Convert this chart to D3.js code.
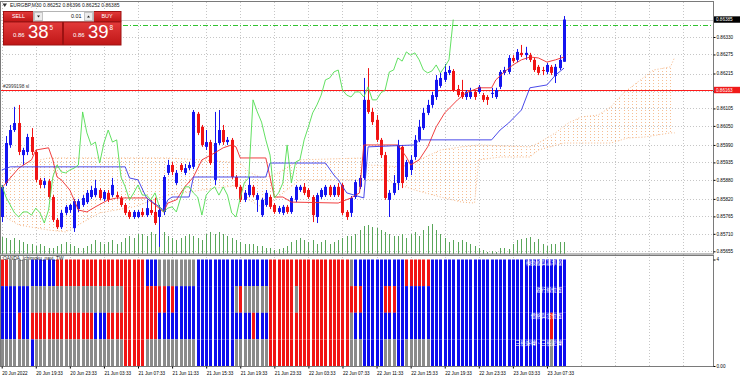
<!DOCTYPE html>
<html>
<head>
<meta charset="utf-8">
<script src="https://cdn.jsdelivr.net/npm/d3@7"></script>
<style>
body { margin: 0; background: #fff; }
svg { display: block; }
</style>
</head>
<body>
<div id="chart"></div>
<script>
// EURGBP M30 bars
const open = [0.85763,0.85870,0.85990,0.86037,0.86059,0.85958,0.85968,0.86015,0.85968,0.85880,
  0.85864,0.85876,0.85826,0.85754,0.85731,0.85776,0.85785,0.85728,0.85788,0.85801,
  0.85810,0.85826,0.85832,0.85848,0.85820,0.85839,0.85832,0.85832,0.85823,0.85801,
  0.85779,0.85763,0.85763,0.85779,0.85769,0.85785,0.85779,0.85763,0.85779,0.85902,
  0.85927,0.85870,0.85927,0.85902,0.85917,0.85921,0.86088,0.86047,0.85984,0.85999,
  0.85880,0.85996,0.86037,0.85999,0.86006,0.85889,0.85858,0.85817,0.85832,0.85858,
  0.85817,0.85769,0.85801,0.85826,0.85801,0.85779,0.85776,0.85795,0.85779,0.85817,
  0.85848,0.85858,0.85848,0.85826,0.85763,0.85826,0.85832,0.85858,0.85832,0.85858,
  0.85864,0.85779,0.85776,0.85826,0.85858,0.85886,0.86132,0.86094,0.86069,0.86006,
  0.85958,0.85817,0.85839,0.85870,0.85984,0.85889,0.85911,0.85952,0.86006,0.86043,
  0.86091,0.86116,0.86141,0.86176,0.86195,0.86217,0.86223,0.86166,0.86157,0.86141,
  0.86141,0.86157,0.86157,0.86147,0.86141,0.86151,0.86141,0.86173,0.86217,0.86220,
  0.86264,0.86258,0.86280,0.86273,0.86273,0.86258,0.86236,0.86226,0.86220,0.86236,
  0.86207,0.86232,0.86252];
const high = [0.85864,0.86018,0.86053,0.86110,0.86116,0.85981,0.86025,0.86043,0.85974,0.85886,
  0.85886,0.85883,0.85832,0.85760,0.85785,0.85801,0.85804,0.85820,0.85820,0.85832,
  0.85848,0.85861,0.85880,0.85854,0.85848,0.85848,0.85886,0.85842,0.85829,0.85807,
  0.85785,0.85785,0.85785,0.85791,0.85817,0.85817,0.85823,0.85801,0.85895,0.85943,
  0.85936,0.85911,0.85933,0.85930,0.85936,0.86100,0.86094,0.86053,0.86037,0.86006,
  0.86094,0.86100,0.86053,0.86015,0.86012,0.85895,0.85864,0.85848,0.85889,0.85864,
  0.85839,0.85823,0.85848,0.85832,0.85807,0.85798,0.85801,0.85801,0.85829,0.85864,
  0.85864,0.85870,0.85854,0.85832,0.85839,0.85854,0.85864,0.85864,0.85864,0.85870,
  0.85870,0.85785,0.85829,0.85880,0.85895,0.86201,0.86232,0.86107,0.86084,0.86012,
  0.85968,0.85848,0.85895,0.86006,0.85990,0.85943,0.85958,0.86021,0.86069,0.86107,
  0.86132,0.86157,0.86210,0.86217,0.86245,0.86239,0.86229,0.86179,0.86195,0.86163,
  0.86170,0.86163,0.86179,0.86154,0.86147,0.86170,0.86170,0.86226,0.86236,0.86273,
  0.86273,0.86292,0.86305,0.86299,0.86280,0.86264,0.86242,0.86236,0.86248,0.86242,
  0.86245,0.86273,0.86396];
const low = [0.85747,0.85861,0.85981,0.86031,0.85958,0.85927,0.85958,0.85958,0.85873,0.85854,
  0.85854,0.85820,0.85747,0.85725,0.85725,0.85769,0.85776,0.85716,0.85779,0.85795,
  0.85804,0.85820,0.85826,0.85817,0.85813,0.85810,0.85826,0.85820,0.85795,0.85769,
  0.85757,0.85757,0.85760,0.85763,0.85763,0.85769,0.85738,0.85669,0.85769,0.85895,
  0.85895,0.85864,0.85905,0.85895,0.85911,0.85914,0.86021,0.85984,0.85974,0.85927,
  0.85864,0.85990,0.85990,0.85990,0.85883,0.85851,0.85810,0.85810,0.85826,0.85826,
  0.85779,0.85763,0.85795,0.85788,0.85773,0.85773,0.85769,0.85773,0.85773,0.85810,
  0.85842,0.85832,0.85820,0.85747,0.85744,0.85820,0.85826,0.85826,0.85826,0.85826,
  0.85769,0.85754,0.85763,0.85820,0.85851,0.85880,0.86088,0.86053,0.85999,0.85949,
  0.85817,0.85763,0.85832,0.85848,0.85854,0.85880,0.85895,0.85943,0.85999,0.86037,
  0.86084,0.86107,0.86132,0.86170,0.86188,0.86210,0.86157,0.86141,0.86135,0.86132,
  0.86135,0.86132,0.86151,0.86125,0.86116,0.86138,0.86135,0.86166,0.86210,0.86213,
  0.86248,0.86251,0.86267,0.86258,0.86251,0.86220,0.86210,0.86210,0.86213,0.86210,
  0.86185,0.86226,0.86252];
const close = [0.85858,0.85996,0.86037,0.86059,0.85968,0.85974,0.86015,0.85968,0.85880,0.85864,
  0.85876,0.85826,0.85754,0.85731,0.85776,0.85795,0.85801,0.85813,0.85813,0.85823,
  0.85839,0.85848,0.85854,0.85823,0.85842,0.85817,0.85864,0.85826,0.85801,0.85776,
  0.85763,0.85779,0.85779,0.85769,0.85791,0.85776,0.85744,0.85785,0.85889,0.85927,
  0.85905,0.85902,0.85911,0.85917,0.85927,0.86094,0.86028,0.85990,0.85999,0.85933,
  0.85996,0.86037,0.85999,0.86006,0.85889,0.85858,0.85817,0.85839,0.85864,0.85832,
  0.85832,0.85817,0.85839,0.85795,0.85779,0.85791,0.85795,0.85779,0.85823,0.85858,
  0.85858,0.85839,0.85826,0.85769,0.85832,0.85848,0.85858,0.85832,0.85858,0.85832,
  0.85776,0.85763,0.85823,0.85873,0.85886,0.86132,0.86094,0.86062,0.86006,0.85958,
  0.85823,0.85839,0.85870,0.85990,0.85870,0.85936,0.85943,0.86006,0.86047,0.86091,
  0.86116,0.86147,0.86195,0.86201,0.86220,0.86226,0.86163,0.86147,0.86141,0.86157,
  0.86157,0.86141,0.86173,0.86132,0.86132,0.86154,0.86163,0.86220,0.86226,0.86264,
  0.86254,0.86283,0.86273,0.86280,0.86258,0.86226,0.86217,0.86223,0.86242,0.86217,
  0.86236,0.86258,0.86385];
// tick volume
const volume = [680,640,560,640,560,480,400,400,320,400,320,240,240,
  320,400,480,400,320,240,240,320,400,560,480,400,
  480,560,400,480,640,720,640,800,800,720,880,800,960,
  880,720,640,560,640,720,800,720,640,560,800,880,800,
  880,800,720,640,560,480,400,400,
  400,320,320,240,240,160,200,240,
  320,480,560,640,560,480,560,400,
  480,560,400,480,560,640,720,720,800,
  960,1120,1160,1080,1040,960,880,
  800,720,720,800,640,800,880,720,960,1120,1200,
  960,800,640,480,560,480,560,
  480,400,320,240,160,80,120,80,240,
  240,200,400,560,600,640,680,480,600,400,320,400,400,480,480];

// Ichimoku lines: [bar, price]
const tenkan = [[0,0.85854],[2,0.85886],[4,0.85917],[7,0.85943],[8,0.85974],[11,0.85981],[12,0.85943],
  [13,0.85889],[14,0.85880],[16,0.85848],[18,0.85785],[20,0.85779],[22,0.85795],[25,0.85817],[27,0.85823],
  [34,0.85823],[36,0.85801],[38,0.85779],[39,0.85807],[41,0.85817],[43,0.85858],[45,0.85889],[47,0.85943],
  [50,0.85965],[52,0.85981],[54,0.85990],[55,0.85984],[56,0.85949],[62,0.85949],[64,0.85826],[66,0.85826],
  [68,0.85810],[79,0.85807],[82,0.85823],[84,0.85839],[85,0.85990],[93,0.85990],[95,0.85952],[96,0.85927],
  [98,0.85943],[100,0.85984],[102,0.86047],[104,0.86091],[107,0.86132],[109,0.86154],[112,0.86170],
  [115,0.86170],[116,0.86195],[118,0.86220],[120,0.86242],[122,0.86258],[124,0.86267],[126,0.86264],
  [128,0.86251],[130,0.86258],[132,0.86267]];
const kijun = [[0,0.85911],[2,0.85921],[29,0.85921],[30,0.85886],[32,0.85880],[34,0.85823],[37,0.85795],
  [38,0.85785],[39,0.85817],[40,0.85826],[44,0.85826],[45,0.85889],[62,0.85889],[63,0.85933],[76,0.85933],
  [78,0.85895],[79,0.85880],[81,0.85839],[85,0.85823],[86,0.85984],[97,0.85990],[98,0.86006],[115,0.86006],
  [117,0.86037],[119,0.86059],[122,0.86100],[124,0.86170],[128,0.86179],[130,0.86210],[132,0.86232]];
const spanA = [[0,0.85895],[4,0.85927],[11,0.85949],[39,0.85949],[47,0.85943],[56,0.85933],[58,0.85905],
  [61,0.85886],[64,0.85895],[70,0.85943],[85,0.85949],[86,0.85927],[94,0.85921],[98,0.85943],[103,0.85974],
  [108,0.85984],[112,0.85990],[124,0.85984],[126,0.85996],[130,0.86028],[133,0.86059],[136,0.86078],
  [140,0.86084],[143,0.86110],[146,0.86154],[149,0.86185],[153,0.86226],[157,0.86236],[158,0.86267]];
const spanB = [[0,0.85769],[4,0.85738],[11,0.85722],[15,0.85716],[23,0.85776],[31,0.85795],[39,0.85832],
  [47,0.85848],[56,0.85864],[58,0.85817],[61,0.85795],[64,0.85817],[70,0.85880],[90,0.85880],[97,0.85848],
  [103,0.85826],[108,0.85810],[111,0.85807],[112,0.85943],[117,0.85952],[124,0.85952],[126,0.85974],
  [132,0.85996],[143,0.85996],[147,0.86012],[151,0.86015],[157,0.86028],[158,0.86028]];

// OANDA_Ichimoku_navi_TW rows, top to bottom, as runs of [colour, bars]
const navi1 = [["r",2],["g",5],["b",6],["r",21],["b",3],["g",9],["b",17],["r",19],["g",1],["b",12],["r",6],["b",32]];
const navi2 = [["b",7],["g",22],["r",10],["b",1],["r",1],["b",14],["g",1],["r",1],["g",6],["r",6],["g",1],["r",15],["b",5],["r",3],["b",40]];
const navi3 = [["b",4],["r",1],["b",2],["r",15],["b",3],["r",12],["b",22],["r",1],["b",3],["r",19],["g",1],["b",46],["r",1],["b",3]];
const navi4 = [["g",7],["b",1],["g",21],["r",5],["g",12],["b",9],["g",8],["r",19],["g",3],["b",5],["g",3],["b",2],["g",6],["b",28],["g",1],["b",3]];
const naviNames = ["轉換線與基準線", "遲行線位置", "價格與雲位置", "三役好轉、三役逆轉"];

const priceTicks = [0.86330,0.86275,0.86215,0.86160,0.86105,0.86050,0.85990,0.85935,0.85880,0.85820,0.85765,0.85710,0.85655];
const timeTicks = [0,8,16,24,32,40,48,56,64,72,80,88,96,104,112,120,128];
const timeLabels = ["20 Jun 2022","20 Jun 19:33","20 Jun 23:33","21 Jun 03:33","21 Jun 07:33","21 Jun 11:33",
  "21 Jun 15:33","21 Jun 19:33","21 Jun 23:33","22 Jun 03:33","22 Jun 07:33","22 Jun 11:33","22 Jun 15:33",
  "22 Jun 19:33","22 Jun 23:33","23 Jun 03:33","23 Jun 07:33"];
const gridBars = timeTicks.concat([136,144,152,160]);
const slPrice = 0.86163, tpPrice = 0.86369;
const ask = 0.86398;

const FONT = "'Liberation Sans', Arial, sans-serif";
const BULL = "#1414f0", BEAR = "#f01414";
const naviColor = { r: "#f11414", b: "#0c0cee", g: "#8a8a8a" };

const svg = d3.select("#chart").append("svg")
  .attr("width", 740).attr("height", 384)
  .style("font-family", FONT);

svg.append("rect").attr("width", 740).attr("height", 384).attr("fill", "#fff");

// scales
const x = d3.scaleLinear().domain([0, 132]).range([1.7, 564]);
const y = d3.scaleLinear().domain([0.85655, 0.86330]).range([251.3, 37]);
const yVol = d3.scaleLinear().domain([0, 1200]).range([254, 224]);
const yNavi = d3.scaleLinear().domain([0, 4]).range([366, 259.5]);
const px = i => Math.round(x(i));

const defs = svg.append("defs");
defs.append("clipPath").attr("id", "mainClip")
  .append("rect").attr("x", 0).attr("y", 2).attr("width", 713).attr("height", 252);

// grid
const grid = svg.append("g").attr("stroke", "#c6c6c6").attr("stroke-dasharray", "1,2");
grid.selectAll(".vg").data(gridBars).enter().append("line")
  .attr("x1", d => px(d) + 0.5).attr("x2", d => px(d) + 0.5)
  .attr("y1", 2).attr("y2", 366);
grid.selectAll(".hg").data(priceTicks).enter().append("line")
  .attr("x1", 0).attr("x2", 713)
  .attr("y1", d => Math.round(y(d)) + 0.5).attr("y2", d => Math.round(y(d)) + 0.5);

const main = svg.append("g").attr("clip-path", "url(#mainClip)");

// Kumo: hatch of dotted vertical lines, one per bar, clipped to the area between the spans
const cloudLine = d3.line().x(d => x(d[0])).y(d => y(d[1]));
defs.append("clipPath").attr("id", "cloudClip")
  .append("path").attr("d", cloudLine(spanA.concat(spanB.slice().reverse())) + "Z");
main.append("g").attr("clip-path", "url(#cloudClip)").attr("opacity", 0.7)
  .selectAll("line").data(d3.range(0, 159)).enter().append("line")
  .attr("x1", d => px(d) + 0.5).attr("x2", d => px(d) + 0.5)
  .attr("y1", 2).attr("y2", 254)
  .attr("stroke", "#f2a468").attr("stroke-dasharray", "1,2");
[spanA, spanB].forEach(s => main.append("path").attr("d", cloudLine(s))
  .attr("fill", "none").attr("stroke", "#f2a468").attr("stroke-dasharray", "1,2").attr("opacity", 0.8));

// volumes
main.append("g").selectAll("line").data(volume).enter().append("line")
  .attr("x1", (d, i) => px(i) + 0.5).attr("x2", (d, i) => px(i) + 0.5)
  .attr("y1", yVol(0)).attr("y2", d => yVol(d))
  .attr("stroke", "#5aa65a");

// bid line, stop loss and take profit
main.append("line").attr("x1", 0).attr("x2", 713)
  .attr("y1", Math.round(y(close[132])) + 0.5).attr("y2", Math.round(y(close[132])) + 0.5)
  .attr("stroke", "#cdcdcd");
main.append("line").attr("x1", 0).attr("x2", 713)
  .attr("y1", Math.round(y(slPrice)) + 0.5).attr("y2", Math.round(y(slPrice)) + 0.5)
  .attr("stroke", "#ff1a1a");
main.append("line").attr("x1", 123).attr("x2", 713)
  .attr("y1", Math.round(y(tpPrice)) + 0.5).attr("y2", Math.round(y(tpPrice)) + 0.5)
  .attr("stroke", "#2fc42f").attr("stroke-dasharray", "5,2,1,2");
main.append("text").attr("x", 3).attr("y", y(slPrice) - 2)
  .attr("font-size", 4.8).attr("fill", "#333").text("#2999198 sl");

// candles
const bars = d3.range(open.length).map(i => ({ i, o: open[i], h: high[i], l: low[i], c: close[i] }));
const candles = main.append("g").selectAll("g").data(bars).enter().append("g")
  .attr("fill", d => d.c >= d.o ? BULL : BEAR)
  .attr("stroke", d => d.c >= d.o ? BULL : BEAR);
candles.append("line")
  .attr("x1", d => px(d.i) + 0.5).attr("x2", d => px(d.i) + 0.5)
  .attr("y1", d => y(d.h)).attr("y2", d => y(d.l));
candles.append("rect")
  .attr("stroke", "none")
  .attr("x", d => px(d.i) - 1).attr("width", 3)
  .attr("y", d => y(Math.max(d.o, d.c)))
  .attr("height", d => Math.max(1, Math.abs(y(d.o) - y(d.c))));

// Tenkan, Kijun, Chikou
const line = d3.line().x(d => x(d[0])).y(d => y(d[1]));
main.append("path").attr("d", line(tenkan)).attr("fill", "none").attr("stroke", "#ee2a2a").attr("stroke-width", 0.9);
main.append("path").attr("d", line(kijun)).attr("fill", "none").attr("stroke", "#3535e6").attr("stroke-width", 0.9);
const chikou = close.map((c, i) => [i - 26, c]).filter(d => d[0] >= 0);
main.append("path").attr("d", line(chikou)).attr("fill", "none").attr("stroke", "#50dc50").attr("stroke-width", 0.9);

// indicator window
const naviRows = [navi1, navi2, navi3, navi4];
const navi = svg.append("g");
naviRows.forEach((runs, r) => {
  const cols = [];
  runs.forEach(([c, n]) => { for (let k = 0; k < n; k++) cols.push(c); });
  const lvl = 3 - r;
  navi.append("g").selectAll("rect").data(cols).enter().append("rect")
    .attr("x", (d, i) => px(i) - 1).attr("width", 3)
    .attr("y", yNavi(lvl + 1)).attr("height", yNavi(lvl) - yNavi(lvl + 1))
    .attr("fill", d => naviColor[d]);
  navi.append("text").attr("x", 562).attr("y", yNavi(lvl + 1) + 5.5)
    .attr("text-anchor", "end").attr("font-size", 5.2).attr("fill", "#fff")
    .style("font-family", "'Noto Sans CJK TC', sans-serif")
    .text(naviNames[r]);
});
svg.append("text").attr("x", 3).attr("y", 259.5).attr("font-size", 4.8).attr("fill", "#222")
  .text("OANDA_Ichimoku_navi_TW");

// window frames
svg.append("rect").attr("x", 0.5).attr("y", 1.5).attr("width", 713).attr("height", 252.5)
  .attr("fill", "none").attr("stroke", "#7a7a7a");
svg.append("rect").attr("x", 0.5).attr("y", 255.5).attr("width", 713).attr("height", 111)
  .attr("fill", "none").attr("stroke", "#7a7a7a");

// price axis
svg.append("g").attr("transform", "translate(713.5,0)")
  .call(d3.axisRight(y).tickValues(priceTicks).tickFormat(d3.format(".5f")).tickSize(2).tickPadding(1))
  .call(g => g.select(".domain").remove())
  .call(g => g.selectAll("text").attr("font-size", 4.6).attr("fill", "#000").style("font-family", FONT))
  .call(g => g.selectAll("line").attr("stroke", "#000"));

// price boxes
function priceBox(p, fill) {
  const yy = y(p);
  svg.append("rect").attr("x", 714).attr("y", yy - 3.2).attr("width", 26).attr("height", 6.4).attr("fill", fill);
  svg.append("text").attr("x", 716).attr("y", yy + 1.7).attr("font-size", 4.6).attr("fill", "#fff")
    .text(d3.format(".5f")(p));
}
priceBox(close[132], "#000");
priceBox(slPrice, "#f01a1a");

// indicator axis
svg.append("g").attr("transform", "translate(713.5,0)")
  .call(d3.axisRight(yNavi).tickValues([4, 0]).tickFormat(d => d === 4 ? "4" : "0.00").tickSize(2).tickPadding(1))
  .call(g => g.select(".domain").remove())
  .call(g => g.selectAll("text").attr("font-size", 4.6).attr("fill", "#000").style("font-family", FONT))
  .call(g => g.selectAll("line").attr("stroke", "#000"));

// time axis
svg.append("g").attr("transform", "translate(0,366.5)")
  .call(d3.axisBottom(x).tickValues(timeTicks).tickFormat((d, i) => timeLabels[i]).tickSize(2).tickPadding(2))
  .call(g => g.select(".domain").remove())
  .call(g => g.selectAll("text").attr("font-size", 4.6).attr("fill", "#000")
    .attr("text-anchor", "start").attr("dy", "0.9em").style("font-family", FONT))
  .call(g => g.selectAll("line").attr("stroke", "#000"));

// header
svg.append("path").attr("d", "M2.5,3.5 L7,3.5 L4.75,7 Z").attr("fill", "#333");
svg.append("text").attr("x", 10).attr("y", 7.3).attr("font-size", 5).attr("fill", "#111")
  .text("EURGBP,M30  " + [open[132], high[132], low[132], close[132]].map(d3.format(".5f")).join(" "));

// one-click trading panel
const grad = defs.append("linearGradient").attr("id", "btn").attr("x1", 0).attr("y1", 0).attr("x2", 0).attr("y2", 1);
grad.append("stop").attr("offset", 0).attr("stop-color", "#e23a3a");
grad.append("stop").attr("offset", 1).attr("stop-color", "#c01616");
const panel = svg.append("g");
panel.append("rect").attr("x", 3.5).attr("y", 11.5).attr("width", 30).attr("height", 10)
  .attr("fill", "url(#btn)").attr("stroke", "#9e1212");
panel.append("rect").attr("x", 93.5).attr("y", 11.5).attr("width", 27.5).attr("height", 10)
  .attr("fill", "url(#btn)").attr("stroke", "#9e1212");
panel.append("rect").attr("x", 33.5).attr("y", 11.5).attr("width", 60).attr("height", 10)
  .attr("fill", "#fff").attr("stroke", "#b4b4b4");
panel.append("rect").attr("x", 34.5).attr("y", 12.5).attr("width", 8).attr("height", 8)
  .attr("fill", "#ececec").attr("stroke", "#c4c4c4");
panel.append("rect").attr("x", 84.5).attr("y", 12.5).attr("width", 8).attr("height", 8)
  .attr("fill", "#ececec").attr("stroke", "#c4c4c4");
panel.append("path").attr("d", "M37,15.5 L40,15.5 L38.5,17.5 Z").attr("fill", "#222");
panel.append("path").attr("d", "M87,17.5 L90,17.5 L88.5,15.5 Z").attr("fill", "#222");
panel.append("text").attr("x", 81.5).attr("y", 18.3).attr("text-anchor", "end")
  .attr("font-size", 5.4).attr("fill", "#111").text("0.01");
panel.append("text").attr("x", 18.5).attr("y", 18.4).attr("text-anchor", "middle")
  .attr("font-size", 5.4).attr("fill", "#fff").text("SELL");
panel.append("text").attr("x", 107).attr("y", 18.4).attr("text-anchor", "middle")
  .attr("font-size", 5.4).attr("fill", "#fff").text("BUY");
const bid = d3.format(".5f")(close[132]), askS = d3.format(".5f")(ask);
[[3.5, 59, bid], [63.5, 57.5, askS]].forEach(([bx, bw, s]) => {
  panel.append("rect").attr("x", bx).attr("y", 22).attr("width", bw).attr("height", 23)
    .attr("fill", "url(#btn)").attr("stroke", "#9e1212");
  panel.append("text").attr("x", bx + 9.5).attr("y", 37.3).attr("font-size", 6)
    .attr("fill", "#fff").text(s.slice(0, 4));
  panel.append("text").attr("x", bx + 24.5).attr("y", 37.5).attr("font-size", 18.5)
    .attr("fill", "#fff").text(s.slice(4, 6));
  panel.append("text").attr("x", bx + 46).attr("y", 29.5).attr("font-size", 6.4)
    .attr("fill", "#fff").text(s.slice(6));
});
</script>
</body>
</html>
